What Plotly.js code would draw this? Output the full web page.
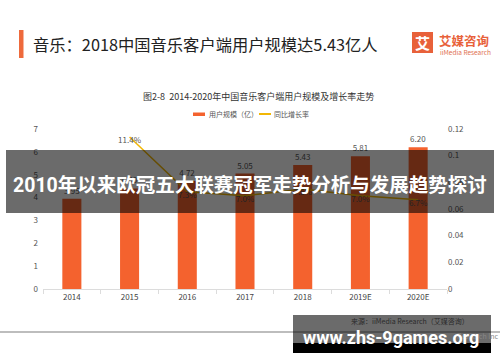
<!DOCTYPE html>
<html>
<head>
<meta charset="utf-8">
<script src="https://cdn.plot.ly/plotly-3.0.1.min.js"></script>
<style>html,body{margin:0;padding:0;background:#fff;}#chart{width:500px;height:362px;}</style>
</head>
<body>
<div id="chart"></div>
<script>
// ---- data ----
var years = ['2014', '2015', '2016', '2017', '2018', '2019E', '2020E'];
var users = [3.95, 4.40, 4.72, 5.05, 5.43, 5.81, 6.20];           // 用户规模（亿人）
var growth = [null, 0.114, 0.073, 0.070, 0.075, 0.070, 0.067];    // 同比增长率
var growthLabels = ['', '11.4%', '7.3%', '7.0%', '7.5%', '7.0%', '6.7%'];
var leftTicks = [0, 1, 2, 3, 4, 5, 6, 7];
var rightTicks = [0, 0.02, 0.04, 0.06, 0.08, 0.1, 0.12];

// ---- layout helpers (pixel -> paper) ----
var W = 500, H = 362;
var mL = 43, mR = 53, mT = 129, mB = 73;
var pw = W - mL - mR, ph = H - mT - mB;
function X(px) { return (px - mL) / pw; }
function Y(py) { return (H - mB - py) / ph; }

var CJK = '"Noto Sans CJK SC", "Noto Sans", sans-serif';
var ORANGE = '#F4622E';
var GOLD = '#F2B705';

var traces = [
  {
    type: 'bar', x: years, y: users, name: '用户规模（亿）',
    marker: { color: ORANGE },
    text: users.map(function (v) { return v.toFixed(2); }),
    textposition: 'outside', cliponaxis: false,
    textfont: { family: CJK, size: 8, color: '#555' },
    hoverinfo: 'x+y'
  },
  {
    type: 'scatter', mode: 'lines+text', x: years, y: growth, yaxis: 'y2', name: '同比增长率',
    line: { color: GOLD, width: 1.5 },
    text: growthLabels, textposition: 'bottom center', cliponaxis: false,
    textfont: { family: CJK, size: 8, color: '#555' },
    connectgaps: false
  }
];

var shapes = [
  // header accent bar
  { type: 'rect', xref: 'paper', yref: 'paper', x0: X(19), x1: X(23.5), y0: Y(30), y1: Y(58), fillcolor: '#EE6A3C', line: { width: 0 } },
  // logo square
  { type: 'rect', xref: 'paper', yref: 'paper', x0: X(412), x1: X(433), y0: Y(32), y1: Y(53), fillcolor: '#E8613A', line: { width: 0 } },
  // legend symbols
  { type: 'rect', xref: 'paper', yref: 'paper', x0: X(193), x1: X(205), y0: Y(112.5), y1: Y(116), fillcolor: ORANGE, line: { width: 0 } },
  { type: 'line', xref: 'paper', yref: 'paper', x0: X(259), x1: X(271), y0: Y(114), y1: Y(114), line: { color: GOLD, width: 2 } },
  // page separator line
  { type: 'line', xref: 'paper', yref: 'paper', x0: X(0), x1: X(500), y0: Y(332), y1: Y(332), line: { color: '#bdbdbd', width: 2 }, layer: 'above' },
  // central dark banner
  { type: 'rect', xref: 'paper', yref: 'paper', x0: X(6), x1: X(494), y0: Y(150), y1: Y(213), fillcolor: 'rgba(0,0,0,0.58)', line: { width: 0 }, layer: 'above' },
  // bottom-right watermark box
  { type: 'rect', xref: 'paper', yref: 'paper', x0: X(293), x1: X(491), y0: Y(315), y1: Y(343), fillcolor: 'rgba(0,0,0,0.58)', line: { width: 0 }, layer: 'above' },
  { type: 'rect', xref: 'paper', yref: 'paper', x0: X(293), x1: X(491), y0: Y(343), y1: Y(353), fillcolor: '#000', line: { width: 0 }, layer: 'above' }
];

function ann(text, px, py, size, color, opts) {
  var a = { text: text, xref: 'paper', yref: 'paper', x: X(px), y: Y(py), xanchor: 'left', yanchor: 'middle',
    showarrow: false, font: { family: CJK, size: size, color: color } };
  for (var k in (opts || {})) a[k] = opts[k];
  return a;
}

var annotations = [
  ann('音乐：2018中国音乐客户端用户规模达5.43亿人', 31, 44, 16.3, '#222'),
  ann('<b>艾</b>', 422.5, 42.5, 15, '#fff', { xanchor: 'center' }),
  ann('<b>艾媒咨询</b>', 437, 40, 12.5, '#E8613A'),
  ann('iiMedia Research', 438, 51.5, 6.5, '#E07050'),
  ann('图2-8  2014-2020年中国音乐客户端用户规模及增长率走势', 258, 96, 9, '#333', { xanchor: 'center' }),
  ann('用户规模（亿）', 207, 114, 7, '#555'),
  ann('同比增长率', 272, 114, 7, '#555'),
  ann('<b>2010年以来欧冠五大联赛冠军走势分析与发展趋势探讨</b>', 250, 185, 19.5, '#fff', { xanchor: 'center', font: { family: 'Roboto, "Noto Sans CJK SC", sans-serif', size: 19.5, color: '#fff' } }),
  ann('来源：iiMedia Research（艾媒咨询）', 410, 321, 7, '#2a2a2a', { xanchor: 'center' }),
  ann('Research Inc', 501, 336, 7, '#888', { xanchor: 'right' }),
  ann('<b>www.zhs-9games.org</b>', 391, 337, 18, '#fff', { xanchor: 'center', font: { family: 'Roboto, "DejaVu Sans", sans-serif', size: 18, color: '#fff' } })
];

var layout = {
  width: W, height: H,
  margin: { l: mL, r: mR, t: mT, b: mB, pad: 0 },
  paper_bgcolor: '#fff', plot_bgcolor: '#fff',
  showlegend: false,
  bargap: 0.67,
  font: { family: CJK, size: 8, color: '#555' },
  xaxis: {
    type: 'category', showgrid: false, zeroline: false,
    showline: true, linecolor: '#dcdcdc', linewidth: 1,
    ticks: 'outside', tickson: 'boundaries', ticklen: 4, tickcolor: '#dcdcdc',
    tickfont: { family: CJK, size: 8, color: '#444' }
  },
  yaxis: {
    range: [0, 7], tickvals: leftTicks, showgrid: false, zeroline: false, showline: false,
    ticks: '', ticklabelstandoff: 4,
    tickfont: { family: CJK, size: 8, color: '#555' }
  },
  yaxis2: {
    overlaying: 'y', side: 'right', range: [0, 0.12], tickvals: rightTicks,
    showgrid: false, zeroline: false, showline: false, ticks: '',
    tickfont: { family: CJK, size: 8, color: '#555' }
  },
  shapes: shapes,
  annotations: annotations
};

Plotly.newPlot('chart', traces, layout, { displayModeBar: false, staticPlot: true });
</script>
</body>
</html>
